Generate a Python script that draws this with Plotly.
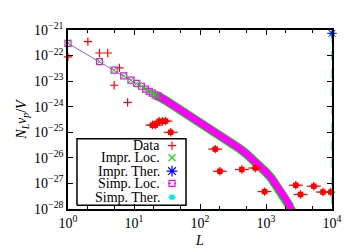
import plotly.graph_objects as go

# ---- data ----
data_L = [1, 2, 3, 4, 5, 6, 8, 19, 21, 24, 27, 30, 36, 170, 200, 430, 690, 950, 2830, 3330, 5300, 7300, 9600]
data_v = [8.9e-23, 3.5e-22, 1.26e-22, 1.26e-22, 6.9e-24, 3.3e-23, 1.48e-24, 1.9e-25, 1.9e-25, 2.7e-25, 2.7e-25, 2.75e-25,
          1.0e-25, 2.2e-26, 3.0e-27, 3.5e-27, 4.0e-27, 4.8e-28, 8.5e-28, 3.7e-28, 7.8e-28, 4.6e-28, 4.6e-28]
blob_min_L = 19  # data points drawn with error blobs

loc_L = [1, 3, 5, 7, 9, 11, 13, 15, 17, 19, 21, 23, 25, 30, 35, 40, 50, 60, 70, 80, 100, 120, 150, 200, 250, 300,
         400, 500, 600, 700, 800, 1000, 1200, 1400, 1600, 1800, 2000, 2200, 2400, 2600, 2800, 3000]
impr_loc = [3.02e-22, 5.75e-23, 2.69e-23, 1.62e-23, 1.10e-23, 8.13e-24, 6.31e-24, 4.90e-24, 3.98e-24, 3.39e-24,
            2.82e-24, 2.69e-24, 2.34e-24, 1.78e-24, 1.38e-24, 1.15e-24, 7.94e-25, 6.03e-25, 4.68e-25, 3.80e-25,
            2.69e-25, 2.00e-25, 1.38e-25, 8.32e-26, 5.62e-26, 3.98e-26, 2.29e-26, 1.45e-26, 9.77e-27, 6.92e-27,
            5.01e-27, 2.75e-27, 1.62e-27, 9.55e-28, 6.03e-28, 3.72e-28, 2.40e-28, 1.51e-28, 9.55e-29, 6.03e-29,
            3.98e-29, 2.51e-29]
simp_loc = list(impr_loc)
band_start_L = 21   # from here on the markers merge into a continuous band

ther_L = [1e4]
impr_ther = [7.4e-22]
simp_ther = [7.4e-22]
ther_line_v = [7.4e-22, 1e-28]

x_tickvals = [1, 10, 100, 1000, 10000]
x_ticktext = ["10<sup>0</sup>", "10<sup>1</sup>", "10<sup>2</sup>", "10<sup>3</sup>", "10<sup>4</sup>"]
y_tickvals = [1e-28, 1e-27, 1e-26, 1e-25, 1e-24, 1e-23, 1e-22, 1e-21]
y_ticktext = ["10<sup>\u221228</sup>", "10<sup>\u221227</sup>", "10<sup>\u221226</sup>", "10<sup>\u221225</sup>",
              "10<sup>\u221224</sup>", "10<sup>\u221223</sup>", "10<sup>\u221222</sup>", "10<sup>\u221221</sup>"]

legend_labels = ["Data", "Impr. Loc.", "Impr. Ther.", "Simp. Loc.", "Simp. Ther."]

RED, GREEN, BLUE, MAG, CYAN = "#ff0000", "#00e000", "#0000ff", "#ff00ff", "#00e8e8"
FONT = "Liberation Serif"

band_L = [l for l in loc_L if l >= band_start_L]
band_impr = [v for l, v in zip(loc_L, impr_loc) if l >= band_start_L]
band_simp = [v for l, v in zip(loc_L, simp_loc) if l >= band_start_L]
mk_L = [l for l in loc_L if l <= band_start_L + 2]
mk_impr = [v for l, v in zip(loc_L, impr_loc) if l <= band_start_L + 2]
mk_simp = [v for l, v in zip(loc_L, simp_loc) if l <= band_start_L + 2]
blob_L = [l for l in data_L if l >= blob_min_L]
blob_v = [v for l, v in zip(data_L, data_v) if l >= blob_min_L]

fig = go.Figure()
# dense region: markers merge into a thick band
fig.add_trace(go.Scatter(x=band_L, y=band_impr, mode="lines", line=dict(color=GREEN, width=9),
                         showlegend=False, hoverinfo="skip"))
fig.add_trace(go.Scatter(x=band_L, y=band_simp, mode="lines", line=dict(color=MAG, width=7),
                         showlegend=False, hoverinfo="skip"))
# Data
fig.add_trace(go.Scatter(x=blob_L, y=blob_v, mode="markers", showlegend=False,
                         marker=dict(symbol="line-ew-open", size=10, color=RED, line=dict(color=RED, width=1.2))))
fig.add_trace(go.Scatter(x=blob_L, y=blob_v, mode="markers", showlegend=False,
                         marker=dict(symbol="square", size=5.5, color=RED, line=dict(width=0))))
fig.add_trace(go.Scatter(x=data_L, y=data_v, mode="markers", name="Data", showlegend=False,
                         marker=dict(symbol="cross-thin-open", size=6, color=RED, line=dict(color=RED, width=1.2)),
                         cliponaxis=False))
# Simp. Loc. (thin connecting line + open squares)
fig.add_trace(go.Scatter(x=mk_L, y=mk_simp, mode="lines+markers", name="Simp. Loc.", showlegend=False,
                         line=dict(color="#a060c0", width=1),
                         marker=dict(symbol="square-open", size=6, color=MAG, line=dict(color=MAG, width=1.2)),
                         cliponaxis=False))
# Impr. Loc.
fig.add_trace(go.Scatter(x=mk_L, y=mk_impr, mode="markers", name="Impr. Loc.", showlegend=False,
                         marker=dict(symbol="x-thin-open", size=7, color=GREEN, line=dict(color=GREEN, width=1)),
                         cliponaxis=False))
# thermodynamic values
fig.add_trace(go.Scatter(x=ther_L + ther_L, y=ther_line_v, mode="lines", showlegend=False,
                         line=dict(color=CYAN, width=1.2, dash="dash"), hoverinfo="skip", cliponaxis=False))
fig.add_trace(go.Scatter(x=ther_L, y=simp_ther, mode="markers", name="Simp. Ther.", showlegend=False,
                         marker=dict(symbol="square", size=5, color=CYAN), cliponaxis=False))
fig.add_trace(go.Scatter(x=ther_L, y=impr_ther, mode="markers", name="Impr. Ther.", showlegend=False,
                         marker=dict(symbol="asterisk-open", size=8, color=BLUE, line=dict(color=BLUE, width=1)),
                         cliponaxis=False))

# ---- hand-made gnuplot style legend (box, keys, right-aligned labels) on an overlay frame ----
box_x = [0.034, 0.447, 0.447, 0.034, 0.034]
box_y = [0.021, 0.021, 0.392, 0.392, 0.021]
key_x = 0.394
row_y = [0.354, 0.287, 0.212, 0.143, 0.066]
text_x = 0.352
ov = dict(xaxis="x2", yaxis="y2", showlegend=False, hoverinfo="skip", cliponaxis=False)
fig.add_trace(go.Scatter(x=box_x, y=box_y, mode="lines", fill="toself", fillcolor="white",
                         line=dict(color="black", width=1.5), **ov))
fig.add_trace(go.Scatter(x=[key_x], y=[row_y[0]], mode="markers",
                         marker=dict(symbol="cross-thin-open", size=6, color=RED, line=dict(color=RED, width=1.2)), **ov))
fig.add_trace(go.Scatter(x=[key_x], y=[row_y[1]], mode="markers",
                         marker=dict(symbol="x-thin-open", size=7, color=GREEN, line=dict(color=GREEN, width=1.2)), **ov))
fig.add_trace(go.Scatter(x=[key_x], y=[row_y[2]], mode="markers",
                         marker=dict(symbol="asterisk-open", size=9, color=BLUE, line=dict(color=BLUE, width=1.2)), **ov))
fig.add_trace(go.Scatter(x=[key_x - 0.015, key_x + 0.015], y=[row_y[3]] * 2, mode="lines",
                         line=dict(color=MAG, width=1, dash="dot"), **ov))
fig.add_trace(go.Scatter(x=[key_x], y=[row_y[3]], mode="markers",
                         marker=dict(symbol="square-open", size=6, color=MAG, line=dict(color=MAG, width=1.2)), **ov))
fig.add_trace(go.Scatter(x=[key_x - 0.015, key_x + 0.015], y=[row_y[4]] * 2, mode="lines",
                         line=dict(color=CYAN, width=1, dash="dot"), **ov))
fig.add_trace(go.Scatter(x=[key_x], y=[row_y[4]], mode="markers",
                         marker=dict(symbol="square", size=5, color=CYAN), **ov))
for lab, yy in zip(legend_labels, row_y):
    fig.add_annotation(x=text_x, y=yy, xref="paper", yref="paper", text=lab, showarrow=False,
                       xanchor="right", yanchor="middle", font=dict(family=FONT, size=14, color="black"),
                       borderpad=0)

axis_common = dict(type="log", showline=True, linecolor="black", linewidth=1.5, mirror="allticks",
                   ticks="inside", ticklen=5, tickwidth=1, tickcolor="black", showgrid=False, zeroline=False,
                   tickfont=dict(family=FONT, size=14, color="black"))
fig.update_xaxes(range=[0, 4], tickvals=x_tickvals, ticktext=x_ticktext,
                 minor=dict(ticks="inside", ticklen=3, tickcolor="black", dtick="D2", showgrid=False),
                 title=dict(text="<i>L</i>", font=dict(family=FONT, size=14, color="black"), standoff=6),
                 **axis_common)
fig.update_yaxes(range=[-28, -21], tickvals=y_tickvals, ticktext=y_ticktext,
                 title=dict(text="<i>N<sub>L</sub>v<sub>p</sub></i>/<i>V</i>",
                            font=dict(family=FONT, size=14, color="black"), standoff=4),
                 **axis_common)
fig.update_layout(
    xaxis2=dict(overlaying="x", range=[0, 1], visible=False, fixedrange=True),
    yaxis2=dict(overlaying="y", range=[0, 1], visible=False, fixedrange=True),
    width=350, height=250, margin=dict(l=60, r=26, t=16, b=45, pad=0),
    plot_bgcolor="white", paper_bgcolor="white",
    font=dict(family=FONT, color="black"),
    showlegend=False,
)
fig.write_html("out.html")
